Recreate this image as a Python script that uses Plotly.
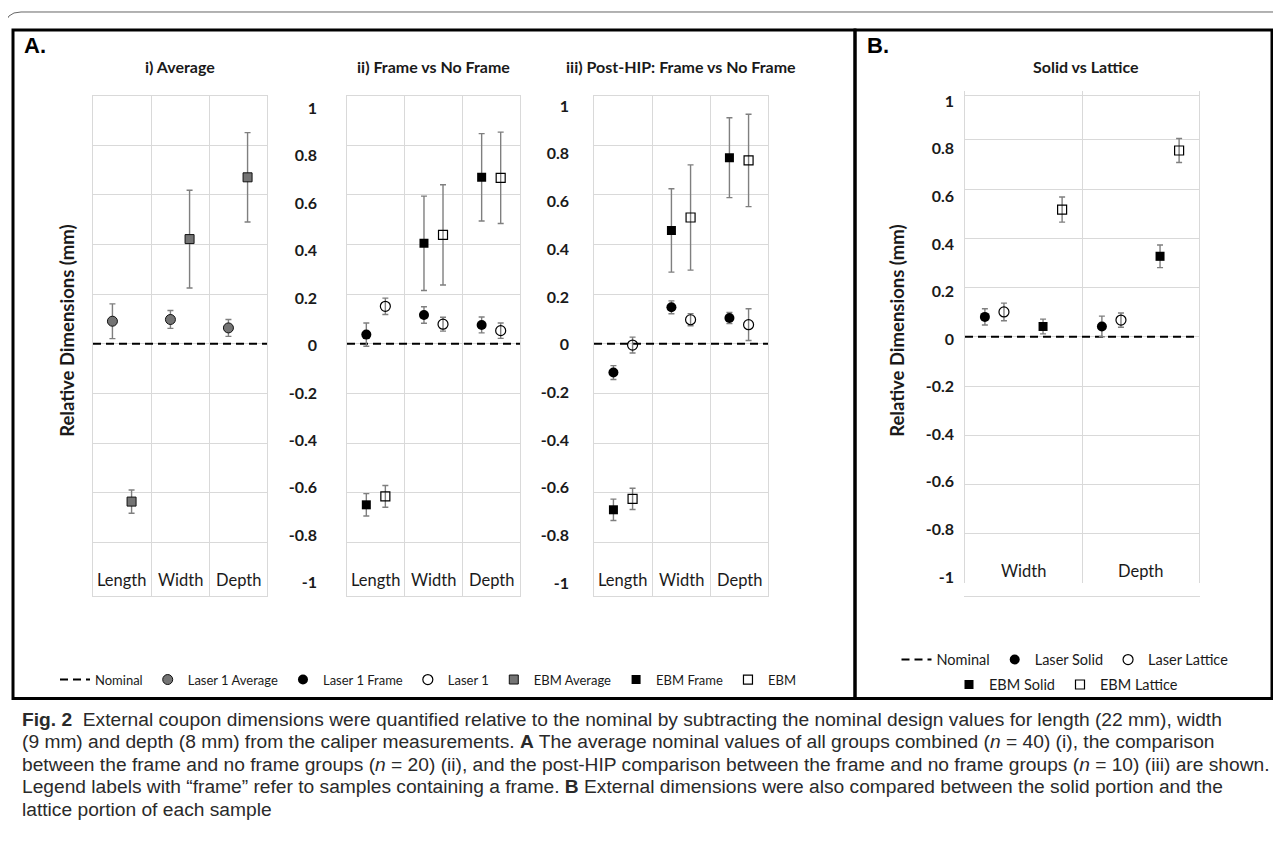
import plotly.graph_objects as go

# page body has an 8px margin: the figure is drawn 8px in from the window edge
PAGE_W, PAGE_H, BODY = 1281, 850, 8
W, H = PAGE_W - 2 * BODY, PAGE_H - 2 * BODY

# ---------------- data ----------------
cats_A = ["Length", "Width", "Depth"]
cats_B = ["Width", "Depth"]
nominal = 0.0

# i) Average
laser1_avg = [0.091, 0.098, 0.064]
laser1_avg_err = [0.070, 0.036, 0.034]
ebm_avg = [-0.636, 0.422, 0.671]
ebm_avg_err = [0.047, 0.197, 0.180]

# ii) Frame vs No Frame
laser1_frame_ii = [0.037, 0.116, 0.076]
laser1_frame_ii_err = [0.047, 0.033, 0.032]
laser1_ii = [0.151, 0.079, 0.053]
laser1_ii_err = [0.033, 0.028, 0.031]
ebm_frame_ii = [-0.649, 0.405, 0.671]
ebm_frame_ii_err = [0.045, 0.190, 0.176]
ebm_ii = [-0.615, 0.439, 0.669]
ebm_ii_err = [0.044, 0.202, 0.184]

# iii) Post-HIP: Frame vs No Frame
laser1_frame_iii = [-0.116, 0.147, 0.104]
laser1_frame_iii_err = [0.028, 0.026, 0.022]
laser1_iii = [-0.005, 0.097, 0.077]
laser1_iii_err = [0.032, 0.024, 0.064]
ebm_frame_iii = [-0.669, 0.457, 0.750]
ebm_frame_iii_err = [0.043, 0.168, 0.161]
ebm_iii = [-0.625, 0.509, 0.739]
ebm_iii_err = [0.043, 0.212, 0.186]

# B) Solid vs Lattice
laser_solid = [0.081, 0.042]
laser_solid_err = [0.033, 0.042]
laser_lattice = [0.101, 0.068]
laser_lattice_err = [0.036, 0.029]
ebm_solid = [0.042, 0.327]
ebm_solid_err = [0.030, 0.046]
ebm_lattice = [0.517, 0.757]
ebm_lattice_err = [0.051, 0.049]

y_tick_vals = [-1.0, -0.8, -0.6, -0.4, -0.2, 0.0, 0.2, 0.4, 0.6, 0.8, 1.0]
y_tick_text = ["-1", "-0.8", "-0.6", "-0.4", "-0.2", "0", "0.2", "0.4", "0.6", "0.8", "1"]
grid_vals = y_tick_vals[1:]

panel_titles = ["i) Average", "ii) Frame vs No Frame",
                "iii) Post-HIP: Frame vs No Frame", "Solid vs Lattice"]
y_title = "Relative Dimensions (mm)"
caption_lines = [
    "<b>Fig. 2</b>  External coupon dimensions were quantified relative to the nominal by subtracting the nominal design values for length (22 mm), width",
    "(9 mm) and depth (8 mm) from the caliper measurements. <b>A</b> The average nominal values of all groups combined (<i>n</i> = 40) (i), the comparison",
    "between the frame and no frame groups (<i>n</i> = 20) (ii), and the post-HIP comparison between the frame and no frame groups (<i>n</i> = 10) (iii) are shown.",
    "Legend labels with \u201cframe\u201d refer to samples containing a frame. <b>B</b> External dimensions were also compared between the solid portion and the",
    "lattice portion of each sample",
]

# ---------------- helpers (window pixels -> paper fractions) ----------------
def fx(px):
    return (px - BODY) / W

def fy(py):
    return 1 - (py - BODY) / H

GRID = "#d9d9d9"
TXT = "#1a1a1a"
CHART_FONT = "Lato, Carlito, Calibri, sans-serif"
CAP_FONT = "Liberation Sans, Arial, sans-serif"
ERR = dict(type="data", color="#7f7f7f", thickness=1.4, width=3)

sty = {
    "avg_laser": dict(symbol="circle", size=10, color="#747474", line=dict(color="#111", width=1)),
    "avg_ebm": dict(symbol="square", size=9, color="#747474", line=dict(color="#111", width=1)),
    "fill_circle": dict(symbol="circle", size=10, color="#000"),
    "open_circle": dict(symbol="circle-open", size=10, color="#000", line=dict(width=1.2)),
    "fill_square": dict(symbol="square", size=9, color="#000"),
    "open_square": dict(symbol="square-open", size=9, color="#000", line=dict(width=1.2)),
}

fig = go.Figure()

def add_pts(vals, errs, off, ax, name, style, legend, showlegend, rank):
    xs = [i + off for i in range(len(vals))]
    fig.add_trace(go.Scatter(
        x=xs, y=vals, mode="markers", name=name,
        error_y=dict(array=errs, **ERR),
        marker=sty[style], xaxis="x" + ax, yaxis="y" + ax,
        legend=legend, showlegend=showlegend, legendrank=rank,
        hoverinfo="skip"))

def add_nominal(ax, ncat, legend, showlegend):
    fig.add_trace(go.Scatter(
        x=[-0.5, ncat - 0.5], y=[nominal, nominal], mode="lines", name="Nominal",
        line=dict(color="#000", width=2, dash="8px,5px"),
        xaxis="x" + ax, yaxis="y" + ax, legend=legend,
        showlegend=showlegend, legendrank=1, hoverinfo="skip"))

OFF_A = 0.165
OFF_B = [-0.33, -0.167, 0.167, 0.33]

# panel i
add_nominal("", 3, "legend", True)
add_pts(laser1_avg, laser1_avg_err, -OFF_A, "", "Laser 1 Average", "avg_laser", "legend", True, 2)
add_pts(ebm_avg, ebm_avg_err, OFF_A, "", "EBM Average", "avg_ebm", "legend", True, 5)
# panel ii
add_nominal("2", 3, "legend", False)
add_pts(ebm_frame_ii, ebm_frame_ii_err, -OFF_A, "2", "EBM Frame", "fill_square", "legend", True, 6)
add_pts(ebm_ii, ebm_ii_err, OFF_A, "2", "EBM", "open_square", "legend", True, 7)
add_pts(laser1_frame_ii, laser1_frame_ii_err, -OFF_A, "2", "Laser 1 Frame", "fill_circle", "legend", True, 3)
add_pts(laser1_ii, laser1_ii_err, OFF_A, "2", "Laser 1", "open_circle", "legend", True, 4)
# panel iii
add_nominal("3", 3, "legend", False)
add_pts(ebm_frame_iii, ebm_frame_iii_err, -OFF_A, "3", "EBM Frame", "fill_square", "legend", False, 6)
add_pts(ebm_iii, ebm_iii_err, OFF_A, "3", "EBM", "open_square", "legend", False, 7)
add_pts(laser1_frame_iii, laser1_frame_iii_err, -OFF_A, "3", "Laser 1 Frame", "fill_circle", "legend", False, 3)
add_pts(laser1_iii, laser1_iii_err, OFF_A, "3", "Laser 1", "open_circle", "legend", False, 4)
# panel B
add_nominal("4", 2, "legend2", True)
add_pts(laser_solid, laser_solid_err, OFF_B[0], "4", "Laser Solid", "fill_circle", "legend2", True, 2)
add_pts(laser_lattice, laser_lattice_err, OFF_B[1], "4", "Laser Lattice", "open_circle", "legend2", True, 3)
add_pts(ebm_solid, ebm_solid_err, OFF_B[2], "4", "EBM Solid", "fill_square", "legend3", True, 4)
add_pts(ebm_lattice, ebm_lattice_err, OFF_B[3], "4", "EBM Lattice", "open_square", "legend3", True, 5)

# empty traces that carry the tick-label axes
for xa, ya in [("x2", "y5"), ("x3", "y6"), ("x4", "y7")]:
    fig.add_trace(go.Scatter(x=[None], y=[None], xaxis=xa, yaxis=ya,
                             showlegend=False, hoverinfo="skip"))

def xaxis(dom, cats):
    n = len(cats)
    return dict(domain=[fx(dom[0]), fx(dom[1])], range=[-0.5, n - 0.5],
                tickmode="array", tickvals=list(range(n)), showticklabels=False,
                ticks="", showgrid=False, zeroline=False,
                showline=True, mirror=True, linecolor=GRID, linewidth=1,
                minor=dict(tickmode="array", tickvals=[i + 0.5 for i in range(n - 1)],
                           showgrid=True, gridcolor=GRID, gridwidth=1, ticks=""),
                fixedrange=True)

def ydata(dom, rng, xa):
    return dict(domain=[fy(dom[1]), fy(dom[0])], range=rng, anchor=xa,
                tickmode="array", tickvals=grid_vals, showticklabels=False,
                showgrid=True, gridcolor=GRID, gridwidth=1, zeroline=False,
                showline=True, mirror=True, linecolor=GRID, linewidth=1, ticks="",
                fixedrange=True)

def ylabels(over, rng, pos):
    return dict(overlaying=over, anchor="free", position=fx(pos), side="left",
                range=rng, tickmode="array", tickvals=y_tick_vals, ticktext=y_tick_text,
                showgrid=False, zeroline=False, showline=False, ticks="",
                tickfont=dict(family=CHART_FONT, size=16, color=TXT, weight="bold"),
                fixedrange=True)

YA = (96, 598)
RA = [-1.016, 1.0]
YB = (91, 585)
RB = [-1.0, 1.0]
X_DOMS = [(93, 267), (347, 520), (594, 768), (965, 1199)]

leg_font = dict(family=CHART_FONT, size=13, color=TXT)
fig.update_layout(
    width=W, height=H, margin=dict(l=0, r=0, t=0, b=0),
    paper_bgcolor="white", plot_bgcolor="white", showlegend=True,
    xaxis=xaxis(X_DOMS[0], cats_A), yaxis=ydata(YA, RA, "x"),
    xaxis2=xaxis(X_DOMS[1], cats_A), yaxis2=ydata(YA, RA, "x2"),
    xaxis3=xaxis(X_DOMS[2], cats_A), yaxis3=ydata(YA, RA, "x3"),
    xaxis4=xaxis(X_DOMS[3], cats_B), yaxis4=ydata(YB, RB, "x4"),
    yaxis5=ylabels("y2", [-1.055, 1.052], 317),
    yaxis6=ylabels("y3", [-1.054, 1.044], 569),
    yaxis7=ylabels("y4", [-1.025, 1.044], 954),
    legend=dict(orientation="h", x=fx(428), xanchor="center", y=fy(682), yanchor="middle",
                font=leg_font, bgcolor="rgba(0,0,0,0)", borderwidth=0),
    legend2=dict(orientation="h", x=fx(1065), xanchor="center", y=fy(662), yanchor="middle",
                 font=dict(leg_font, size=14.5), bgcolor="rgba(0,0,0,0)", borderwidth=0),
    legend3=dict(orientation="h", x=fx(1066), xanchor="center", y=fy(687), yanchor="middle",
                 font=dict(leg_font, size=14.5), bgcolor="rgba(0,0,0,0)", borderwidth=0),
)

ann = []
# category labels (drawn inside the bottom of each plot, as in the original)
for k, (cats, ycen) in enumerate([(cats_A, 582), (cats_A, 582), (cats_A, 582), (cats_B, 573)]):
    xr = "x" if k == 0 else "x%d" % (k + 1)
    for i, c in enumerate(cats):
        ann.append(dict(text=c, x=i, xref=xr, y=fy(ycen), yref="paper",
                        xanchor="center", yanchor="middle",
                        font=dict(family=CHART_FONT, size=16.5, color=TXT)))
# panel letters
for t, lx in [("A.", 22), ("B.", 865)]:
    ann.append(dict(text="<b>" + t + "</b>", x=fx(lx), y=fy(46), xanchor="left", yanchor="middle",
                    font=dict(family=CAP_FONT, size=22, color="#000")))
for t, cx in zip(panel_titles, [180, 433, 681, 1086]):
    ann.append(dict(text="<b>" + t + "</b>", x=fx(cx), y=fy(67), xanchor="center", yanchor="middle",
                    font=dict(family=CHART_FONT, size=16, color=TXT)))
for cx in [67, 897]:
    ann.append(dict(text="<b>" + y_title + "</b>", x=fx(cx), y=fy(332), textangle=-90,
                    xanchor="center", yanchor="middle",
                    font=dict(family=CHART_FONT, size=18.5, color=TXT)))
for k, line in enumerate(caption_lines):
    ann.append(dict(text=line, x=fx(20), y=fy(722 + 22.5 * k), xanchor="left", yanchor="middle",
                    align="left", font=dict(family=CAP_FONT, size=19.2, color="#2a2a2a")))
for a in ann:
    a.setdefault("xref", "paper")
    a.setdefault("yref", "paper")
    a["showarrow"] = False
fig.update_layout(annotations=ann)

frame_path = (f"M {fx(5)},{fy(850)} L {fx(5)},{fy(28)} Q {fx(5)},{fy(12)} {fx(21)},{fy(12)} "
              f"L {fx(1281)},{fy(12)}")
fig.update_layout(shapes=[
    dict(type="path", path=frame_path, xref="paper", yref="paper", line=dict(color="#666", width=1)),
    dict(type="rect", x0=fx(13), x1=fx(855), y0=fy(701), y1=fy(30), xref="paper", yref="paper",
         line=dict(color="#000", width=3)),
    dict(type="rect", x0=fx(855), x1=fx(1272), y0=fy(701), y1=fy(30), xref="paper", yref="paper",
         line=dict(color="#000", width=3)),
])

fig.write_html("out.html")
